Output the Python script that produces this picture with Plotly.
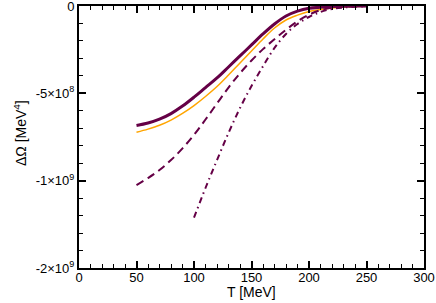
import plotly.graph_objects as go

# Data
T_main = [50, 60, 70, 80, 90, 100, 110, 120, 130, 140, 150, 160, 170, 180, 190, 200, 210, 220, 230, 240, 250]
omega_solid = [-6.84e8, -6.70e8, -6.48e8, -6.16e8, -5.73e8, -5.22e8, -4.67e8, -4.12e8, -3.49e8, -2.86e8,
               -2.23e8, -1.60e8, -1.03e8, -5.7e7, -2.9e7, -1.3e7, -6.9e6, -3.4e6, -1.7e6, -6e5, -3e5]
omega_orange = [-7.23e8, -7.05e8, -6.83e8, -6.53e8, -6.15e8, -5.70e8, -5.18e8, -4.61e8, -3.95e8, -3.26e8,
                -2.58e8, -1.89e8, -1.26e8, -8.0e7, -5.2e7, -3.1e7, -2.0e7, -1.1e7, -5.7e6, -2.9e6, -1.1e6]
omega_dashed = [-1.025e9, -9.85e8, -9.39e8, -8.82e8, -8.15e8, -7.38e8, -6.50e8, -5.58e8, -4.67e8, -3.85e8,
                -3.12e8, -2.47e8, -1.90e8, -1.36e8, -8.8e7, -5.0e7, -2.4e7, -1.0e7, -4.0e6, -1.5e6, -5e5]
T_dashdot = [100, 110, 120, 130, 140, 150, 160, 170, 180, 190, 200, 210, 220, 230, 240, 250]
omega_dashdot = [-1.212e9, -1.042e9, -8.82e8, -7.27e8, -5.84e8, -4.58e8, -3.45e8, -2.40e8, -1.60e8, -1.03e8,
                 -6.3e7, -3.4e7, -1.7e7, -8.6e6, -4.0e6, -1.7e6]

x_tickvals = [0, 50, 100, 150, 200, 250, 300]
y_tickvals = [0, -5e8, -1e9, -1.5e9]
y_ticktext = ["0", "-5×10<sup>8</sup>", "-1×10<sup>9</sup>", "-2×10<sup>9</sup>"]
x_title = "T [MeV]"
y_title = "ΔΩ [MeV<sup>4</sup>]"

PURPLE = "#650046"
ORANGE = "#FFA500"

fig = go.Figure()
fig.add_trace(go.Scatter(x=T_main, y=omega_orange, mode="lines", line=dict(color=ORANGE, width=1.5, shape="spline")))
fig.add_trace(go.Scatter(x=T_main, y=omega_dashed, mode="lines", line=dict(color=PURPLE, width=2, dash="8px,5px", shape="spline")))
fig.add_trace(go.Scatter(x=T_dashdot, y=omega_dashdot, mode="lines", line=dict(color=PURPLE, width=2, dash="6px,4px,1.5px,4px", shape="spline")))
fig.add_trace(go.Scatter(x=T_main, y=omega_solid, mode="lines", line=dict(color=PURPLE, width=3, shape="spline")))

axis_common = dict(
    showgrid=False, zeroline=False, showline=True, linecolor="black", linewidth=2,
    mirror="ticks", ticks="inside", ticklen=7, tickwidth=1.5, tickcolor="black",
    automargin=False, ticklabeloverflow="allow",
    tickfont=dict(family="Liberation Sans", size=13, color="black"),
)

fig.update_layout(
    width=436, height=303,
    margin=dict(l=79, r=12, t=6, b=35),
    paper_bgcolor="white", plot_bgcolor="white",
    showlegend=False,
    font=dict(family="Liberation Sans", color="black"),
    xaxis=dict(range=[0, 300], tickvals=x_tickvals, ticklabelstandoff=-4,
               minor=dict(dtick=10, ticks="inside", ticklen=4, tickwidth=1, tickcolor="black"),
               **axis_common),
    yaxis=dict(range=[-1.5e9, 0], tickvals=y_tickvals, ticktext=y_ticktext,
               minor=dict(dtick=1e8, ticks="inside", ticklen=4, tickwidth=1, tickcolor="black"),
               **axis_common),
    annotations=[
        dict(text=x_title, xref="paper", yref="paper", x=0.5, y=-0.09, xanchor="center", yanchor="middle",
             showarrow=False, borderpad=0, font=dict(family="Liberation Sans", size=14, color="black")),
        dict(text=y_title, xref="paper", yref="paper", x=-0.171, y=0.515, xanchor="center", yanchor="middle",
             textangle=-90, showarrow=False, font=dict(family="Liberation Sans", size=14, color="black")),
    ],
)

fig.write_html("out.html", config={"displayModeBar": False},
               post_script="document.body.style.margin='0';")
